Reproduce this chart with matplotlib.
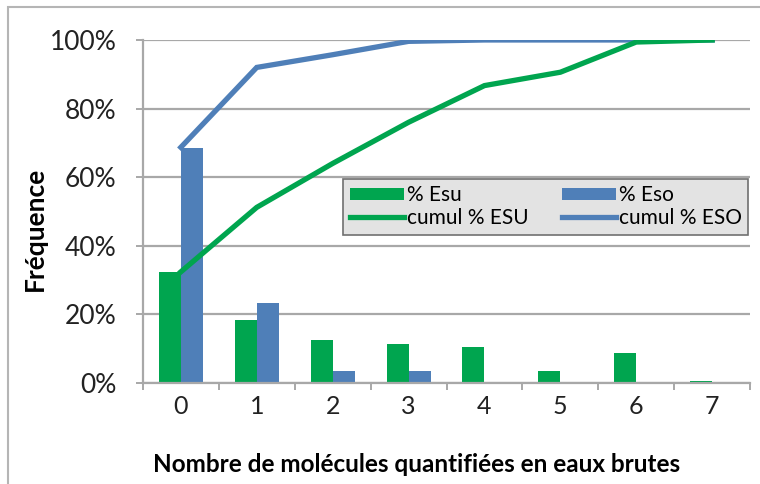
import matplotlib.pyplot as plt
from matplotlib.patches import Rectangle
from matplotlib.ticker import PercentFormatter, FixedLocator

plt.rcParams['font.family'] = ['Lato', 'DejaVu Sans']

# values (percent)
categories = ['0', '1', '2', '3', '4', '5', '6', '7']
pct_esu = [32.4, 18.5, 12.5, 11.5, 10.4, 3.4, 8.6, 0.7]
pct_eso = [68.5, 23.2, 3.4, 3.4, 0.3, 0.0, 0.0, 0.0]
cumul_esu = [32.4, 51.2, 64.0, 76.0, 86.7, 90.6, 99.4, 100.0]
cumul_eso = [68.7, 92.0, 95.7, 99.6, 100.0, 100.0, 100.0, 100.0]

green = '#00a54f'
blue = '#4f7fb8'
grid_gray = '#a8a8a8'

fig = plt.figure(figsize=(7.6, 4.84), dpi=100)
ax = fig.add_axes([0.188, 0.2087, 0.799, 0.7087])

x = list(range(len(categories)))
w = 0.29
b1 = ax.bar([i - w / 2 for i in x], pct_esu, width=w, color=green, label='% Esu', zorder=2)
b2 = ax.bar([i + w / 2 for i in x], pct_eso, width=w, color=blue, label='% Eso', zorder=2)
l1, = ax.plot(x, cumul_eso, color=blue, lw=3.8, label='cumul % ESO', zorder=3,
              solid_joinstyle='miter')
l2, = ax.plot(x, cumul_esu, color=green, lw=3.8, label='cumul % ESU', zorder=4,
              solid_joinstyle='miter')

ax.set_xlim(-0.5, 7.5)
ax.set_ylim(0, 100)
ax.set_yticks([0, 20, 40, 60, 80, 100])
ax.yaxis.set_major_formatter(PercentFormatter(decimals=0))
ax.yaxis.grid(True, color=grid_gray, lw=1.6, zorder=0)
ax.set_axisbelow(True)

ax.set_xticks(x)
ax.set_xticklabels(categories)
ax.xaxis.set_minor_locator(FixedLocator([i + 0.5 for i in range(-1, 8)]))
ax.tick_params(axis='x', which='major', length=0, pad=9, labelsize=18, colors='#222222')
ax.tick_params(axis='x', which='minor', length=5, width=1.4, color=grid_gray, direction='out')
ax.tick_params(axis='y', length=5, width=1.4, color=grid_gray, labelsize=19,
               labelcolor='#222222', pad=14)

for s in ['top', 'right']:
    ax.spines[s].set_visible(False)
for s in ['left', 'bottom']:
    ax.spines[s].set_color(grid_gray)
    ax.spines[s].set_linewidth(1.6)

ax.set_ylabel('Fréquence', fontsize=19, fontweight='bold')
ax.yaxis.set_label_coords(-0.158, 0.45)
ax.set_xlabel('Nombre de molécules quantifiées en eaux brutes', fontsize=17.5,
              fontweight='bold', va='top')
ax.xaxis.set_label_coords(0.45, -0.205)

leg = ax.legend([b1, l2, b2, l1], ['% Esu', 'cumul % ESU', '% Eso', 'cumul % ESO'],
                ncol=2, loc='upper left', bbox_to_anchor=(0.33, 0.595),
                fontsize=15, frameon=True, fancybox=False, handlelength=2.6,
                handleheight=0.55, handletextpad=0.15, columnspacing=1.6,
                labelspacing=0.15, borderpad=0.3, borderaxespad=0)
leg.get_frame().set_facecolor('#e3e3e3')
leg.get_frame().set_edgecolor('#707070')
leg.get_frame().set_linewidth(1.2)
leg.get_frame().set_alpha(1)
leg.set_zorder(5)

# outer chart frame
fig.patches.append(Rectangle((0.011, -0.1), 1.2, 1.086, transform=fig.transFigure,
                             fill=False, edgecolor='#b5b5b5', lw=1.5))

fig.savefig('out.png', dpi=100)
